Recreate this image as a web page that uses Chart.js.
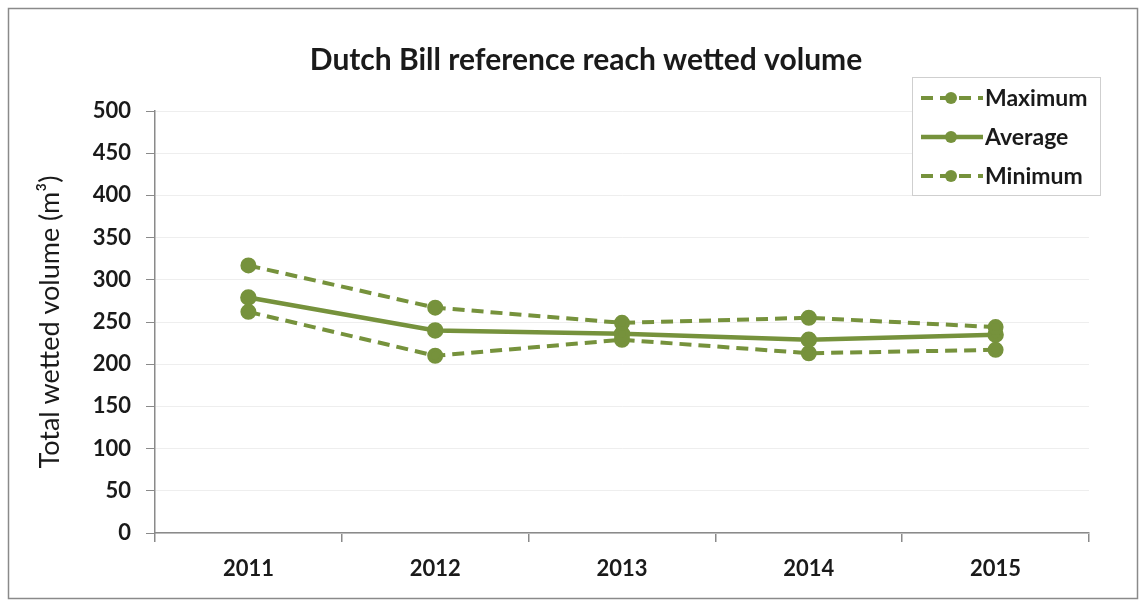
<!DOCTYPE html>
<html>
<head>
<meta charset="utf-8">
<script src="https://cdn.jsdelivr.net/npm/chart.js@4/dist/chart.umd.min.js"></script>
<style>
  html, body { margin: 0; padding: 0; background: #fff; }
  #wrap { width: 1147px; height: 602px; position: relative; }
</style>
</head>
<body>
<div id="wrap"><canvas id="chart" width="1147" height="602"></canvas></div>
<script>
// Data
const years = ['2011', '2012', '2013', '2014', '2015'];
const maximum = [317, 267, 249, 255, 244];
const average = [279, 240, 236, 229, 235];
const minimum = [262, 210, 229, 213, 217];
const yTicks = [0, 50, 100, 150, 200, 250, 300, 350, 400, 450, 500];

const green = '#76923c';
const font = 'Lato, "Open Sans", sans-serif';

// Border, title and legend box drawn on the canvas
const decor = {
  id: 'decor',
  beforeDraw(chart) {
    const c = chart.ctx;
    c.save();
    c.fillStyle = '#fff';
    c.fillRect(0, 0, chart.width, chart.height);
    c.strokeStyle = '#8a8a8a';
    c.lineWidth = 1.5;
    c.strokeRect(8.5, 8.5, 1129, 590);
    c.restore();
  },
  afterDraw(chart) {
    const c = chart.ctx;
    c.save();
    c.fillStyle = '#1a1a1a';
    c.font = 'bold 30px ' + font;
    c.textAlign = 'center';
    c.textBaseline = 'middle';
    c.fillText('Dutch Bill reference reach wetted volume', 586, 60);

    // legend
    const lx = 912, ly = 77, lw = 188, lh = 118;
    c.fillStyle = '#fff';
    c.fillRect(lx, ly, lw, lh);
    c.strokeStyle = '#cfcfcf';
    c.lineWidth = 1;
    c.strokeRect(lx + 0.5, ly + 0.5, lw, lh);
    c.font = 'bold 23px ' + font;
    c.textAlign = 'left';
    chart.data.datasets.forEach((ds, i) => {
      const y = ly + 21 + i * 39;
      c.strokeStyle = ds.borderColor;
      c.lineWidth = ds.borderWidth;
      c.setLineDash(ds.borderDash || []);
      c.beginPath();
      c.moveTo(lx + 9, y);
      c.lineTo(lx + 71, y);
      c.stroke();
      c.setLineDash([]);
      c.fillStyle = ds.pointBackgroundColor;
      c.beginPath();
      c.arc(lx + 39, y, ds.pointRadius, 0, Math.PI * 2);
      c.fill();
      c.fillStyle = '#1a1a1a';
      c.fillText(ds.label, lx + 73, y + 1);
    });
    c.restore();
  }
};

function series(label, data, dash) {
  return {
    label: label,
    data: data,
    borderColor: green,
    backgroundColor: green,
    pointBackgroundColor: green,
    pointBorderColor: green,
    borderWidth: dash ? 4 : 4.5,
    borderDash: dash ? [12, 7] : [],
    pointRadius: 6,
    tension: 0
  };
}

new Chart(document.getElementById('chart'), {
  type: 'line',
  data: {
    labels: years,
    datasets: [
      series('Maximum', maximum, true),
      series('Average', average, false),
      series('Minimum', minimum, true)
    ]
  },
  options: {
    responsive: false,
    animation: false,
    layout: { padding: { left: 30, right: 58, top: 111, bottom: 10 } },
    plugins: {
      legend: { display: false },
      title: { display: false },
      tooltip: { enabled: false }
    },
    scales: {
      x: {
        offset: true,
        grid: {
          offset: true,
          drawOnChartArea: false,
          tickLength: 9,
          tickColor: '#8a8a8a',
          lineWidth: 1.5
        },
        border: { color: '#8a8a8a', width: 1.5 },
        ticks: {
          color: '#1a1a1a',
          font: { family: font, size: 22, weight: 'bold' },
          padding: 14
        },
        afterFit(s) { s.height = 59; }
      },
      y: {
        min: 0,
        max: 500,
        afterBuildTicks(s) { s.ticks = yTicks.map(v => ({ value: v })); },
        grid: {
          color: '#eeeeee',
          tickColor: '#8a8a8a',
          tickLength: 9,
          lineWidth: 1
        },
        border: { color: '#8a8a8a', width: 1.5 },
        ticks: {
          color: '#1a1a1a',
          font: { family: font, size: 22, weight: 'bold' },
          padding: 15
        },
        title: {
          display: true,
          text: 'Total wetted volume (m³)',
          color: '#1a1a1a',
          font: { family: font, size: 27, weight: 'normal' },
          padding: { bottom: 4 }
        },
        afterFit(s) { s.width = 125; }
      }
    }
  },
  plugins: [decor]
});
</script>
</body>
</html>
